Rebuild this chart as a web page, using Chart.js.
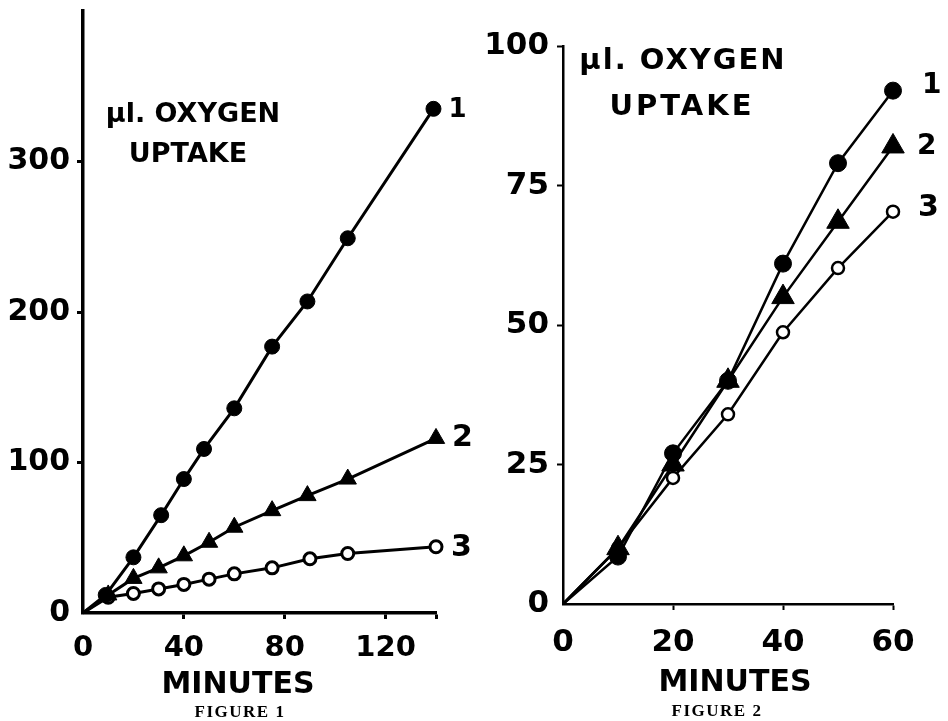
<!DOCTYPE html>
<html>
<head>
<meta charset="utf-8">
<script src="https://cdn.jsdelivr.net/npm/chart.js@4/dist/chart.umd.min.js"></script>
<style>
html,body{margin:0;padding:0;background:#fff;}
#wrap{position:relative;width:948px;height:721px;background:#fff;overflow:hidden;}
canvas{position:absolute;top:0;}
#c1{left:0;}
#c2{left:474px;}
</style>
</head>
<body>
<div id="wrap">
<canvas id="c1" width="474" height="721"></canvas>
<canvas id="c2" width="474" height="721"></canvas>
</div>
<script>
// ---------- DATA ----------
const seriesNames = ['1', '2', '3'];

// Figure 1
const fig1Minutes1 = [0, 9, 20, 31, 40, 48, 60, 75, 89, 105, 139];
const fig1Uptake1  = [0, 12, 37, 65, 89, 109, 136, 177, 207, 249, 335];
const fig1Minutes2 = [0, 10, 20, 30, 40, 50, 60, 75, 89, 105, 140];
const fig1Uptake2  = [0, 12, 23, 30, 38, 47, 57, 68, 78, 89, 116];
const fig1Minutes3 = [0, 10, 20, 30, 40, 50, 60, 75, 90, 105, 140];
const fig1Uptake3  = [0, 10.5, 13, 16, 19, 22.5, 26, 30, 36, 39.5, 44];
const fig1XTicks = [0, 40, 80, 120];
const fig1YTicks = [0, 100, 200, 300];

// Figure 2
const fig2Minutes = [0, 10, 20, 30, 40, 50, 60];
const fig2Uptake1 = [0, 8.5, 27, 40, 61, 79, 92];
const fig2Uptake2 = [0, 10, 25, 40, 55, 68.5, 82];
const fig2Uptake3 = [0, 10, 22.6, 34, 48.7, 60.2, 70.3];
const fig2XTicks = [0, 20, 40, 60];
const fig2YTicks = [0, 25, 50, 75, 100];

// ---------- helpers ----------
const pts = (xs, ys) => xs.map((x, i) => ({x: x, y: ys[i]}));
const FONT = "'DejaVu Sans', 'Liberation Sans', sans-serif";
const SERIF = "'Liberation Serif', 'DejaVu Serif', serif";

const textPlugin = {
  id: 'figText',
  afterDraw(chart, args, opts) {
    const ctx = chart.ctx;
    ctx.save();
    ctx.fillStyle = '#000';
    ctx.textBaseline = 'middle';
    (opts.items || []).forEach(it => {
      ctx.font = it.font;
      ctx.textAlign = it.align || 'center';
      ctx.letterSpacing = it.spacing || '0px';
      ctx.fillText(it.text, it.x, it.y);
    });
    (opts.endLabels || []).forEach((lab, i) => {
      const meta = chart.getDatasetMeta(i);
      const el = meta.data[meta.data.length - 1];
      ctx.font = lab.font;
      ctx.textAlign = 'left';
      ctx.letterSpacing = '0px';
      ctx.fillText(chart.data.datasets[i].label, el.x + lab.dx, el.y + lab.dy);
    });
    ctx.restore();
  }
};

function lineSet(label, data, style, lw) {
  const base = {
    label: label, data: data, borderColor: '#000', borderWidth: lw,
    tension: 0, clip: false, fill: false,
    pointHoverRadius: 0
  };
  return Object.assign(base, style);
}

function makeScales(cfg) {
  const common = (axisTicks, font, pad) => ({
    type: 'linear',
    border: {display: true, color: '#000', width: cfg.axisWidth},
    grid: {
      display: true, drawOnChartArea: false, drawTicks: true,
      tickLength: 6, tickWidth: cfg.axisWidth - 0.5,
      tickColor: (c) => (c.tick && c.tick.value === 0) ? 'rgba(0,0,0,0)' : '#000'
    },
    ticks: {
      color: '#000', font: font, padding: pad, autoSkip: false, maxRotation: 0,
      callback: (v) => axisTicks.includes(v) ? String(v) : ''
    }
  });
  const x = common(cfg.xTicks, {family: FONT, weight: 'bold', size: cfg.xFont}, cfg.xPad);
  x.min = 0;
  x.max = cfg.xMax;
  x.afterBuildTicks = (s) => {
    const vals = cfg.xTicks.slice();
    if (!vals.includes(cfg.xMax)) vals.push(cfg.xMax);
    s.ticks = vals.map(v => ({value: v}));
  };
  x.afterFit = (s) => { s.height = cfg.xHeight; s.paddingLeft = 0; s.paddingRight = 0; };

  const y = common(cfg.yTicks, {family: FONT, weight: 'bold', size: cfg.yFont}, cfg.yPad);
  y.min = 0;
  y.max = cfg.yMax;
  y.afterBuildTicks = (s) => { s.ticks = cfg.yTicks.map(v => ({value: v})); };
  y.afterFit = (s) => { s.width = cfg.yWidth; s.paddingTop = 0; s.paddingBottom = 0; };
  return {x: x, y: y};
}

const baseOptions = {
  responsive: false,
  animation: false,
  events: [],
  plugins: {legend: {display: false}, tooltip: {enabled: false}}
};

// ---------- Figure 1 ----------
new Chart(document.getElementById('c1'), {
  type: 'line',
  data: {
    datasets: [
      lineSet(seriesNames[0], pts(fig1Minutes1, fig1Uptake1), {
        pointStyle: 'circle', pointRadius: (c) => c.dataIndex === 0 ? 0 : 7.5,
        pointBackgroundColor: '#000', pointBorderColor: '#000', pointBorderWidth: 1
      }, 3),
      lineSet(seriesNames[1], pts(fig1Minutes2, fig1Uptake2), {
        pointStyle: 'triangle', pointRadius: (c) => c.dataIndex === 0 ? 0 : 10,
        pointBackgroundColor: '#000', pointBorderColor: '#000', pointBorderWidth: 1
      }, 3),
      lineSet(seriesNames[2], pts(fig1Minutes3, fig1Uptake3), {
        pointStyle: 'circle', pointRadius: (c) => c.dataIndex === 0 ? 0 : 6,
        pointBackgroundColor: '#fff', pointBorderColor: '#000', pointBorderWidth: 3
      }, 3)
    ]
  },
  options: Object.assign({}, baseOptions, {
    layout: {padding: {left: 0, top: 5, right: 38, bottom: 0}},
    scales: makeScales({
      xTicks: fig1XTicks, yTicks: fig1YTicks, xMax: 140, yMax: 400,
      xFont: 29, yFont: 30, xPad: 12, yPad: 7,
      xHeight: 108, yWidth: 83, axisWidth: 3.5
    }),
    plugins: Object.assign({}, baseOptions.plugins, {
      figText: {
        items: [
          {text: 'µl. OXYGEN', x: 193, y: 115, font: `bold 27px ${FONT}`},
          {text: 'UPTAKE', x: 188, y: 155, font: `bold 27px ${FONT}`},
          {text: 'MINUTES', x: 238, y: 685, font: `bold 30px ${FONT}`},
          {text: 'FIGURE 1', x: 240, y: 713, font: `bold 17px ${SERIF}`, spacing: '1.5px'}
        ],
        endLabels: [
          {dx: 15, dy: 1, font: `bold 26px ${FONT}`},
          {dx: 16, dy: 0, font: `bold 30px ${FONT}`},
          {dx: 15, dy: 1, font: `bold 30px ${FONT}`}
        ]
      }
    })
  }),
  plugins: [textPlugin]
});

// ---------- Figure 2 ----------
new Chart(document.getElementById('c2'), {
  type: 'line',
  data: {
    datasets: [
      lineSet(seriesNames[0], pts(fig2Minutes, fig2Uptake1), {
        pointStyle: 'circle', pointRadius: (c) => c.dataIndex === 0 ? 0 : 8.5,
        pointBackgroundColor: '#000', pointBorderColor: '#000', pointBorderWidth: 1
      }, 2.5),
      lineSet(seriesNames[1], pts(fig2Minutes, fig2Uptake2), {
        pointStyle: 'triangle', pointRadius: (c) => c.dataIndex === 0 ? 0 : 13,
        pointBackgroundColor: '#000', pointBorderColor: '#000', pointBorderWidth: 1
      }, 2.5),
      lineSet(seriesNames[2], pts(fig2Minutes, fig2Uptake3), {
        pointStyle: 'circle', pointRadius: (c) => c.dataIndex === 0 ? 0 : 6,
        pointBackgroundColor: '#fff', pointBorderColor: '#000', pointBorderWidth: 2.5
      }, 2.5)
    ]
  },
  options: Object.assign({}, baseOptions, {
    layout: {padding: {left: 0, top: 46, right: 55, bottom: 0}},
    scales: makeScales({
      xTicks: fig2XTicks, yTicks: fig2YTicks, xMax: 60, yMax: 100,
      xFont: 31, yFont: 31, xPad: 14, yPad: 8,
      xHeight: 117, yWidth: 89, axisWidth: 2.5
    }),
    plugins: Object.assign({}, baseOptions.plugins, {
      figText: {
        items: [
          {text: 'µl. OXYGEN', x: 209, y: 61, font: `bold 29px ${FONT}`, spacing: '2px'},
          {text: 'UPTAKE', x: 208, y: 107, font: `bold 29px ${FONT}`, spacing: '3px'},
          {text: 'MINUTES', x: 261, y: 683, font: `bold 30px ${FONT}`},
          {text: 'FIGURE 2', x: 243, y: 712, font: `bold 17px ${SERIF}`, spacing: '1.5px'}
        ],
        endLabels: [
          {dx: 29, dy: -5, font: `bold 28px ${FONT}`},
          {dx: 24, dy: 0, font: `bold 28px ${FONT}`},
          {dx: 25, dy: -4, font: `bold 30px ${FONT}`}
        ]
      }
    })
  }),
  plugins: [textPlugin]
});
</script>
</body>
</html>
